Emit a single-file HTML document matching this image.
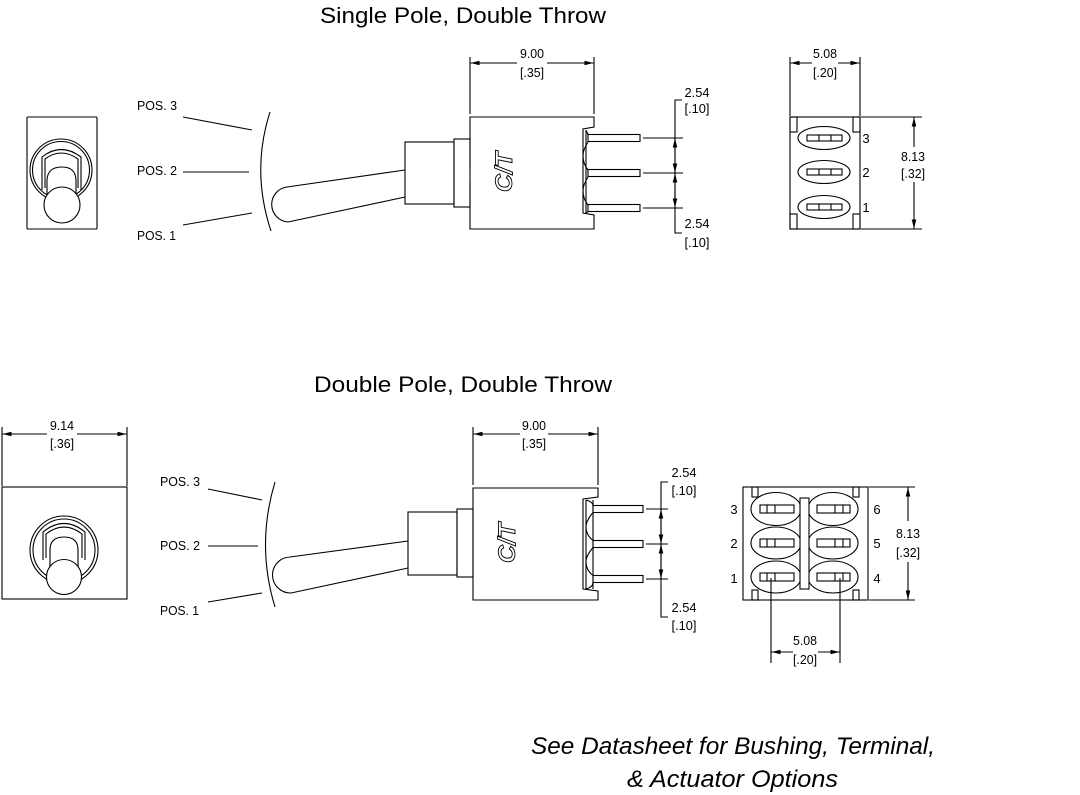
<!DOCTYPE html>
<html><head><meta charset="utf-8"><style>
html,body{margin:0;padding:0;background:#fff;width:1080px;height:795px;overflow:hidden}
svg{display:block}
text{font-family:"Liberation Sans",sans-serif;fill:#000}
</style></head><body>
<svg width="1080" height="795" viewBox="0 0 1080 795" xmlns="http://www.w3.org/2000/svg">
<defs>
<marker id="a" markerUnits="userSpaceOnUse" markerWidth="10" markerHeight="6" refX="9" refY="3" orient="auto-start-reverse"><path d="M0,0.7 L9,3 L0,5.3 z" fill="#000"/></marker>
</defs>

<!-- Titles -->
<text x="320" y="23" font-size="22" textLength="286" lengthAdjust="spacingAndGlyphs">Single Pole, Double Throw</text>
<text x="314" y="392" font-size="22" textLength="298" lengthAdjust="spacingAndGlyphs">Double Pole, Double Throw</text>
<text x="531" y="754" font-size="24" font-style="italic" textLength="404" lengthAdjust="spacingAndGlyphs">See Datasheet for Bushing, Terminal,</text>
<text x="627" y="787" font-size="24" font-style="italic" textLength="211" lengthAdjust="spacingAndGlyphs">&amp; Actuator Options</text>

<g fill="none" stroke="#000" stroke-width="1.1">
<!-- ===== SPDT front face ===== -->
<rect x="27" y="117" width="70" height="112" rx="1"/>
<circle cx="61" cy="170" r="31"/>
<circle cx="61" cy="170" r="28.5"/>
<path d="M42,190 V157 Q61,142 81,157 V190"/>
<path d="M45,188 V159 Q61,147 78,159 V188"/>
<path d="M47,198 V181 Q47,167 62,167 Q76,167 76,181 V198" fill="#fff"/>
<circle cx="62" cy="205" r="18" fill="#fff"/>

<!-- SPDT POS lines -->
<line x1="183" y1="117" x2="252" y2="130"/>
<line x1="183" y1="172" x2="249" y2="172"/>
<line x1="183" y1="225" x2="252" y2="213"/>
<path d="M270,112 Q251,171 271,231"/>

<!-- SPDT side view -->
<path d="M405,170 L287,187 A17.6,17.6 0 0 0 288,222 L405,197"/>
<rect x="405" y="142" width="49" height="62"/>
<rect x="454" y="139" width="16" height="68"/>
<path d="M470,167 V117 H594 V127 L583,129 V213 L594,215 V229 H470 V182"/>
<line x1="586" y1="130" x2="586" y2="213"/>
<path d="M586,131 Q588,133 588,135 M588,142 Q583,150 583,155.5 Q583,164 588,170 M588,177 Q583,185 583,190.5 Q583,199 588,205 M588,211 Q588,212 586,213"/>
<rect x="588" y="134.5" width="52" height="7"/>
<rect x="588" y="169.5" width="52" height="7"/>
<rect x="588" y="204.5" width="52" height="7"/>
<!-- 9.00 dim -->
<line x1="470" y1="57" x2="470" y2="114"/>
<line x1="594" y1="57" x2="594" y2="114"/>
<line x1="517" y1="63" x2="470.5" y2="63" marker-end="url(#a)"/>
<line x1="547" y1="63" x2="593.5" y2="63" marker-end="url(#a)"/>
<!-- 2.54 pin dims -->
<line x1="643" y1="138" x2="683" y2="138"/>
<line x1="643" y1="173" x2="683" y2="173"/>
<line x1="643" y1="208" x2="683" y2="208"/>
<path d="M682,100 H675 V233 H682"/>
<line x1="675" y1="138.5" x2="675" y2="172.5" marker-start="url(#a)" marker-end="url(#a)"/>
<line x1="675" y1="173.5" x2="675" y2="207.5" marker-start="url(#a)" marker-end="url(#a)"/>

<!-- SPDT terminal view -->
<rect x="790" y="117" width="70" height="112"/>
<rect x="790" y="117" width="7" height="15"/>
<rect x="853" y="117" width="7" height="15"/>
<rect x="790" y="214" width="7" height="15"/>
<rect x="853" y="214" width="7" height="15"/>
<ellipse cx="824" cy="138" rx="26" ry="11.5"/>
<ellipse cx="824" cy="172" rx="26" ry="11.5"/>
<ellipse cx="824" cy="207" rx="26" ry="11.5"/>
<rect x="807" y="135" width="35" height="6"/><line x1="819" y1="135" x2="819" y2="141"/><line x1="831" y1="135" x2="831" y2="141"/>
<rect x="807" y="169" width="35" height="6"/><line x1="819" y1="169" x2="819" y2="175"/><line x1="831" y1="169" x2="831" y2="175"/>
<rect x="807" y="204" width="35" height="6"/><line x1="819" y1="204" x2="819" y2="210"/><line x1="831" y1="204" x2="831" y2="210"/>
<line x1="790" y1="57" x2="790" y2="116"/>
<line x1="860" y1="57" x2="860" y2="116"/>
<line x1="812" y1="63" x2="790.5" y2="63" marker-end="url(#a)"/>
<line x1="838" y1="63" x2="859.5" y2="63" marker-end="url(#a)"/>
<line x1="861" y1="117" x2="922" y2="117"/>
<line x1="861" y1="229" x2="922" y2="229"/>
<line x1="914" y1="147" x2="914" y2="117.5" marker-end="url(#a)"/>
<line x1="914" y1="182" x2="914" y2="228.5" marker-end="url(#a)"/>

<!-- ===== DPDT front face ===== -->
<rect x="2" y="487" width="125" height="112"/>
<circle cx="64" cy="550" r="34"/>
<circle cx="64" cy="550" r="31"/>
<path d="M43,560 V532 Q64,515 85,532 V560"/>
<path d="M46,558 V534 Q64,520 82,534 V558"/>
<path d="M50,570 V550 Q50,537 64,537 Q78,537 78,550 V570" fill="#fff"/>
<circle cx="64" cy="577" r="17.5" fill="#fff"/>
<!-- 9.14 dim -->
<line x1="2" y1="427" x2="2" y2="486"/>
<line x1="127" y1="427" x2="127" y2="486"/>
<line x1="47" y1="434" x2="2.5" y2="434" marker-end="url(#a)"/>
<line x1="77" y1="434" x2="126.5" y2="434" marker-end="url(#a)"/>

<!-- DPDT POS lines -->
<line x1="208" y1="489" x2="262" y2="500"/>
<line x1="208" y1="546" x2="258" y2="546"/>
<line x1="208" y1="602" x2="262" y2="593"/>
<path d="M275,482 Q256,545 275,607"/>

<!-- DPDT side view -->
<path d="M408,541 L290,557 A18,18 0 0 0 291,593 L408,568"/>
<rect x="408" y="512" width="49" height="63"/>
<rect x="457" y="509" width="16" height="68"/>
<path d="M473,488 H598 V497 L583,499 V589 L598,591 V600 H473 Z"/>
<line x1="586" y1="500" x2="586" y2="589"/>
<line x1="593" y1="500" x2="593" y2="589"/>
<path d="M586,500 Q593,502 593,505.5 M593,512.5 Q586,521 586,526.5 Q586,535 593,540.5 M593,547.5 Q586,556 586,561.5 Q586,570 593,575.5 M593,582.5 Q593,587 586,589"/>
<rect x="593" y="505.5" width="50" height="7"/>
<rect x="593" y="540.5" width="50" height="7"/>
<rect x="593" y="575.5" width="50" height="7"/>
<line x1="473" y1="427" x2="473" y2="485"/>
<line x1="598" y1="427" x2="598" y2="485"/>
<line x1="520" y1="434" x2="473.5" y2="434" marker-end="url(#a)"/>
<line x1="548" y1="434" x2="597.5" y2="434" marker-end="url(#a)"/>
<line x1="646" y1="509" x2="668" y2="509"/>
<line x1="646" y1="544" x2="668" y2="544"/>
<line x1="646" y1="579" x2="668" y2="579"/>
<path d="M668,482 H661 V617 H668"/>
<line x1="661" y1="509.5" x2="661" y2="543.5" marker-start="url(#a)" marker-end="url(#a)"/>
<line x1="661" y1="544.5" x2="661" y2="578.5" marker-start="url(#a)" marker-end="url(#a)"/>

<!-- DPDT terminal view -->
<rect x="743" y="487" width="125" height="113"/>
<rect x="752" y="487" width="6" height="10"/>
<rect x="853" y="487" width="6" height="10"/>
<rect x="752" y="590" width="6" height="10"/>
<rect x="853" y="590" width="6" height="10"/>
<ellipse cx="776" cy="509" rx="25" ry="16.5"/>
<ellipse cx="776" cy="543" rx="25" ry="16"/>
<ellipse cx="776" cy="577" rx="25" ry="16"/>
<ellipse cx="833" cy="509" rx="25" ry="16.5"/>
<ellipse cx="833" cy="543" rx="25" ry="16"/>
<ellipse cx="833" cy="577" rx="25" ry="16"/>
<rect x="800" y="498" width="9" height="91" fill="#fff"/>
<rect x="760" y="505" width="34" height="8"/><line x1="767" y1="505" x2="767" y2="513"/><line x1="775" y1="505" x2="775" y2="513"/>
<rect x="760" y="539" width="34" height="8"/><line x1="767" y1="539" x2="767" y2="547"/><line x1="775" y1="539" x2="775" y2="547"/>
<rect x="760" y="573" width="34" height="8"/><line x1="767" y1="573" x2="767" y2="581"/><line x1="775" y1="573" x2="775" y2="581"/>
<rect x="817" y="505" width="33" height="8"/><line x1="835" y1="505" x2="835" y2="513"/><line x1="843" y1="505" x2="843" y2="513"/>
<rect x="817" y="539" width="33" height="8"/><line x1="835" y1="539" x2="835" y2="547"/><line x1="843" y1="539" x2="843" y2="547"/>
<rect x="817" y="573" width="33" height="8"/><line x1="835" y1="573" x2="835" y2="581"/><line x1="843" y1="573" x2="843" y2="581"/>
<line x1="771" y1="578" x2="771" y2="663"/>
<line x1="840" y1="578" x2="840" y2="663"/>
<line x1="793" y1="652" x2="771.5" y2="652" marker-end="url(#a)"/>
<line x1="818" y1="652" x2="839.5" y2="652" marker-end="url(#a)"/>
<line x1="869" y1="487" x2="915" y2="487"/>
<line x1="869" y1="600" x2="915" y2="600"/>
<line x1="908" y1="521" x2="908" y2="487.5" marker-end="url(#a)"/>
<line x1="908" y1="562" x2="908" y2="599.5" marker-end="url(#a)"/>
</g>

<!-- C/T logos -->
<text transform="translate(504,172) rotate(-90)" text-anchor="middle" dy="8" font-size="24" font-style="italic" font-weight="bold" textLength="40" lengthAdjust="spacingAndGlyphs" fill="none" stroke="#000" stroke-width="0.9" style="fill:none">C/T</text>
<text transform="translate(507,543) rotate(-90)" text-anchor="middle" dy="8" font-size="24" font-style="italic" font-weight="bold" textLength="40" lengthAdjust="spacingAndGlyphs" fill="none" stroke="#000" stroke-width="0.9" style="fill:none">C/T</text>

<!-- SPDT labels -->
<g font-size="12.5">
<text x="137" y="110" textLength="40" lengthAdjust="spacingAndGlyphs">POS. 3</text>
<text x="137" y="175" textLength="40" lengthAdjust="spacingAndGlyphs">POS. 2</text>
<text x="137" y="240" textLength="39" lengthAdjust="spacingAndGlyphs">POS. 1</text>
<text x="160" y="486" textLength="40" lengthAdjust="spacingAndGlyphs">POS. 3</text>
<text x="160" y="550" textLength="40" lengthAdjust="spacingAndGlyphs">POS. 2</text>
<text x="160" y="615" textLength="39" lengthAdjust="spacingAndGlyphs">POS. 1</text>
</g>
<g font-size="13" text-anchor="middle">
<text x="532" y="58" textLength="24" lengthAdjust="spacingAndGlyphs">9.00</text>
<text x="532" y="77" textLength="24" lengthAdjust="spacingAndGlyphs">[.35]</text>
<text x="697" y="97" textLength="25" lengthAdjust="spacingAndGlyphs">2.54</text>
<text x="697" y="113" textLength="25" lengthAdjust="spacingAndGlyphs">[.10]</text>
<text x="697" y="228" textLength="25" lengthAdjust="spacingAndGlyphs">2.54</text>
<text x="697" y="247" textLength="25" lengthAdjust="spacingAndGlyphs">[.10]</text>
<text x="825" y="58" textLength="24" lengthAdjust="spacingAndGlyphs">5.08</text>
<text x="825" y="77" textLength="24" lengthAdjust="spacingAndGlyphs">[.20]</text>
<text x="913" y="161" textLength="24" lengthAdjust="spacingAndGlyphs">8.13</text>
<text x="913" y="178" textLength="24" lengthAdjust="spacingAndGlyphs">[.32]</text>
<text x="866" y="143">3</text>
<text x="866" y="177">2</text>
<text x="866" y="212">1</text>

<text x="62" y="430" textLength="24" lengthAdjust="spacingAndGlyphs">9.14</text>
<text x="62" y="448" textLength="24" lengthAdjust="spacingAndGlyphs">[.36]</text>
<text x="534" y="430" textLength="24" lengthAdjust="spacingAndGlyphs">9.00</text>
<text x="534" y="448" textLength="24" lengthAdjust="spacingAndGlyphs">[.35]</text>
<text x="684" y="477" textLength="25" lengthAdjust="spacingAndGlyphs">2.54</text>
<text x="684" y="495" textLength="25" lengthAdjust="spacingAndGlyphs">[.10]</text>
<text x="684" y="612" textLength="25" lengthAdjust="spacingAndGlyphs">2.54</text>
<text x="684" y="630" textLength="25" lengthAdjust="spacingAndGlyphs">[.10]</text>
<text x="908" y="538" textLength="24" lengthAdjust="spacingAndGlyphs">8.13</text>
<text x="908" y="557" textLength="24" lengthAdjust="spacingAndGlyphs">[.32]</text>
<text x="805" y="645" textLength="24" lengthAdjust="spacingAndGlyphs">5.08</text>
<text x="805" y="664" textLength="24" lengthAdjust="spacingAndGlyphs">[.20]</text>
<text x="734" y="514">3</text>
<text x="734" y="548">2</text>
<text x="734" y="583">1</text>
<text x="877" y="514">6</text>
<text x="877" y="548">5</text>
<text x="877" y="583">4</text>
</g>
</svg>
</body></html>
